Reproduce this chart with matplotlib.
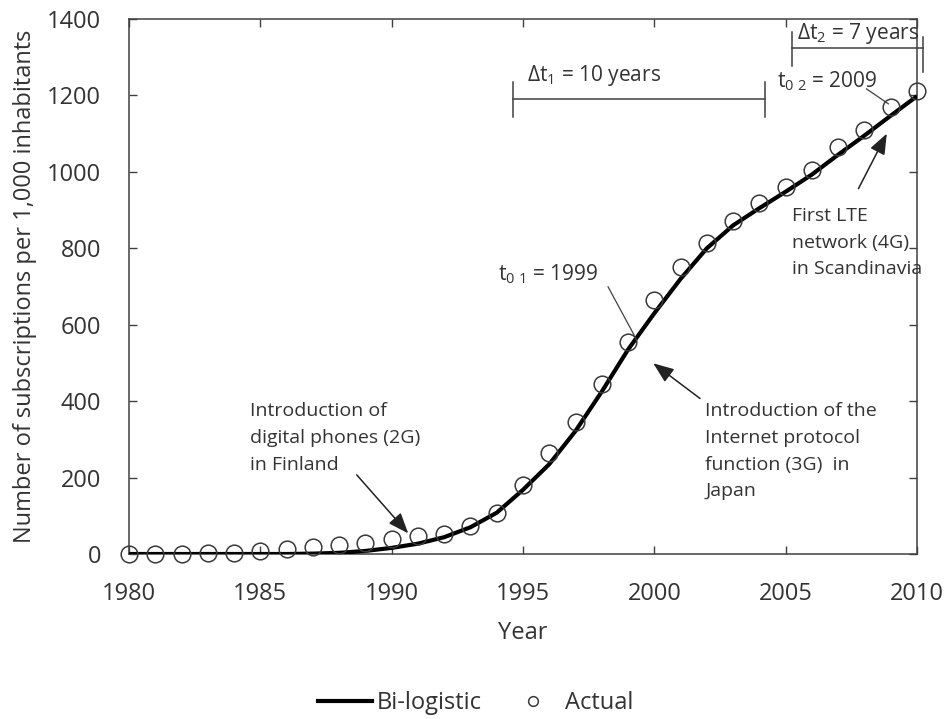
import matplotlib
matplotlib.use("Agg")
import matplotlib.pyplot as plt
from matplotlib.lines import Line2D
import numpy as np

plt.rcParams['font.family'] = ['Open Sans', 'DejaVu Sans']
plt.rcParams['mathtext.fontset'] = 'custom'
plt.rcParams['mathtext.rm'] = 'Open Sans'
plt.rcParams['mathtext.it'] = 'Open Sans:italic'
plt.rcParams['mathtext.bf'] = 'Open Sans:bold'

years = np.arange(1980, 2011)
actual = [0, 0, 0, 2, 3, 8, 14, 18, 23, 30, 38, 47, 52, 72, 108, 180,
          265, 345, 445, 555, 665, 750, 815, 872, 919, 960, 1005, 1065, 1110, 1170, 1212]
bi_logistic = [0, 0, 0, 0, 0, 0, 0, 1, 3, 8, 16, 27, 44, 70, 108, 168,
               235, 322, 425, 535, 630, 720, 800, 860, 905, 948, 993, 1045, 1095, 1147, 1198]

txt = '#333333'
ax_col = '#404040'

fig = plt.figure(figsize=(9.46, 7.19), dpi=100)
ax = fig.add_axes([0.13636, 0.22949, 0.83298, 0.74409])

ax.plot(years, bi_logistic, color='black', lw=3, solid_capstyle='butt', zorder=3)
ax.plot(years, actual, 'o', ms=12, mfc='none', mec='#3a3a3a', mew=1.1,
        clip_on=False, zorder=4)

ax.set_xlim(1980, 2010)
ax.set_ylim(0, 1400)
ax.set_xticks(range(1980, 2011, 5))
ax.set_yticks(range(0, 1401, 200))
ax.tick_params(direction='in', top=True, right=True, length=5.5, width=1,
               color=ax_col, labelsize=17, labelcolor=txt, pad=20)
for s in ax.spines.values():
    s.set_color(ax_col)
    s.set_linewidth(1.1)

ax.set_xlabel('Year', fontsize=17, color=txt, labelpad=11)
ax.set_ylabel('Number of subscriptions per 1,000 inhabitants', fontsize=17,
              color=txt, labelpad=7)

# brackets for the characteristic durations
br = dict(color=ax_col, lw=1.1, clip_on=False)
ax.plot([1994.62, 2004.21], [1191, 1191], **br)
ax.plot([1994.62, 1994.62], [1143, 1235], **br)
ax.plot([2004.21, 2004.21], [1143, 1235], **br)
ax.text(1995.15, 1239, r'$\mathregular{\Delta t_1}$ = 10 years', fontsize=15, color=txt)

ax.plot([2005.25, 2010.22], [1324, 1324], **br)
ax.plot([2005.25, 2005.25], [1278, 1366], **br)
ax.plot([2010.22, 2010.22], [1261, 1352], **br)
ax.text(2005.42, 1348, r'$\mathregular{\Delta t_2}$ = 7 years', fontsize=15, color=txt,
        clip_on=False)

# midpoints
ax.text(2004.66, 1222, r'$\mathregular{t_{0\ 2}}$ = 2009', fontsize=15, color=txt)
ax.plot([2008.08, 2008.91], [1217, 1178], color=ax_col, lw=0.9)
ax.text(1994.06, 716, r'$\mathregular{t_{0\ 1}}$ = 1999', fontsize=15, color=txt)
ax.plot([1998.24, 1999.23], [699, 573], color=ax_col, lw=0.9)

# technology milestones
arr = dict(arrowstyle='-|>,head_length=0.9,head_width=0.35', color='#222222',
           lw=1.1, mutation_scale=14, shrinkA=0, shrinkB=0)
ax.annotate('', xy=(1990.63, 54), xytext=(1988.67, 207), arrowprops=arr)
ax.text(1984.61, 397, 'Introduction of\ndigital phones (2G)\nin Finland',
        fontsize=14, color=txt, va='top', linespacing=1.62)

ax.annotate('', xy=(1999.96, 499), xytext=(2001.74, 407), arrowprops=arr)
ax.text(2001.93, 397, 'Introduction of the\nInternet protocol\nfunction (3G)  in\nJapan',
        fontsize=14, color=txt, va='top', linespacing=1.62)

ax.annotate('', xy=(2008.85, 1100), xytext=(2007.77, 956), arrowprops=arr)
ax.text(2005.23, 908, 'First LTE\nnetwork (4G)\nin Scandinavia',
        fontsize=14, color=txt, va='top', linespacing=1.62, clip_on=False)

handles = [Line2D([], [], color='black', lw=3),
           Line2D([], [], ls='none', marker='o', ms=7, mfc='none', mec='#3a3a3a', mew=1.1)]
fig.legend(handles, ['Bi-logistic', 'Actual'], loc='center', bbox_to_anchor=(0.5026, 0.022),
           ncol=2, frameon=False, fontsize=17, handlelength=2.3, handletextpad=0.2,
           columnspacing=1.0, labelcolor=txt)

fig.savefig('out.png', dpi=100)
